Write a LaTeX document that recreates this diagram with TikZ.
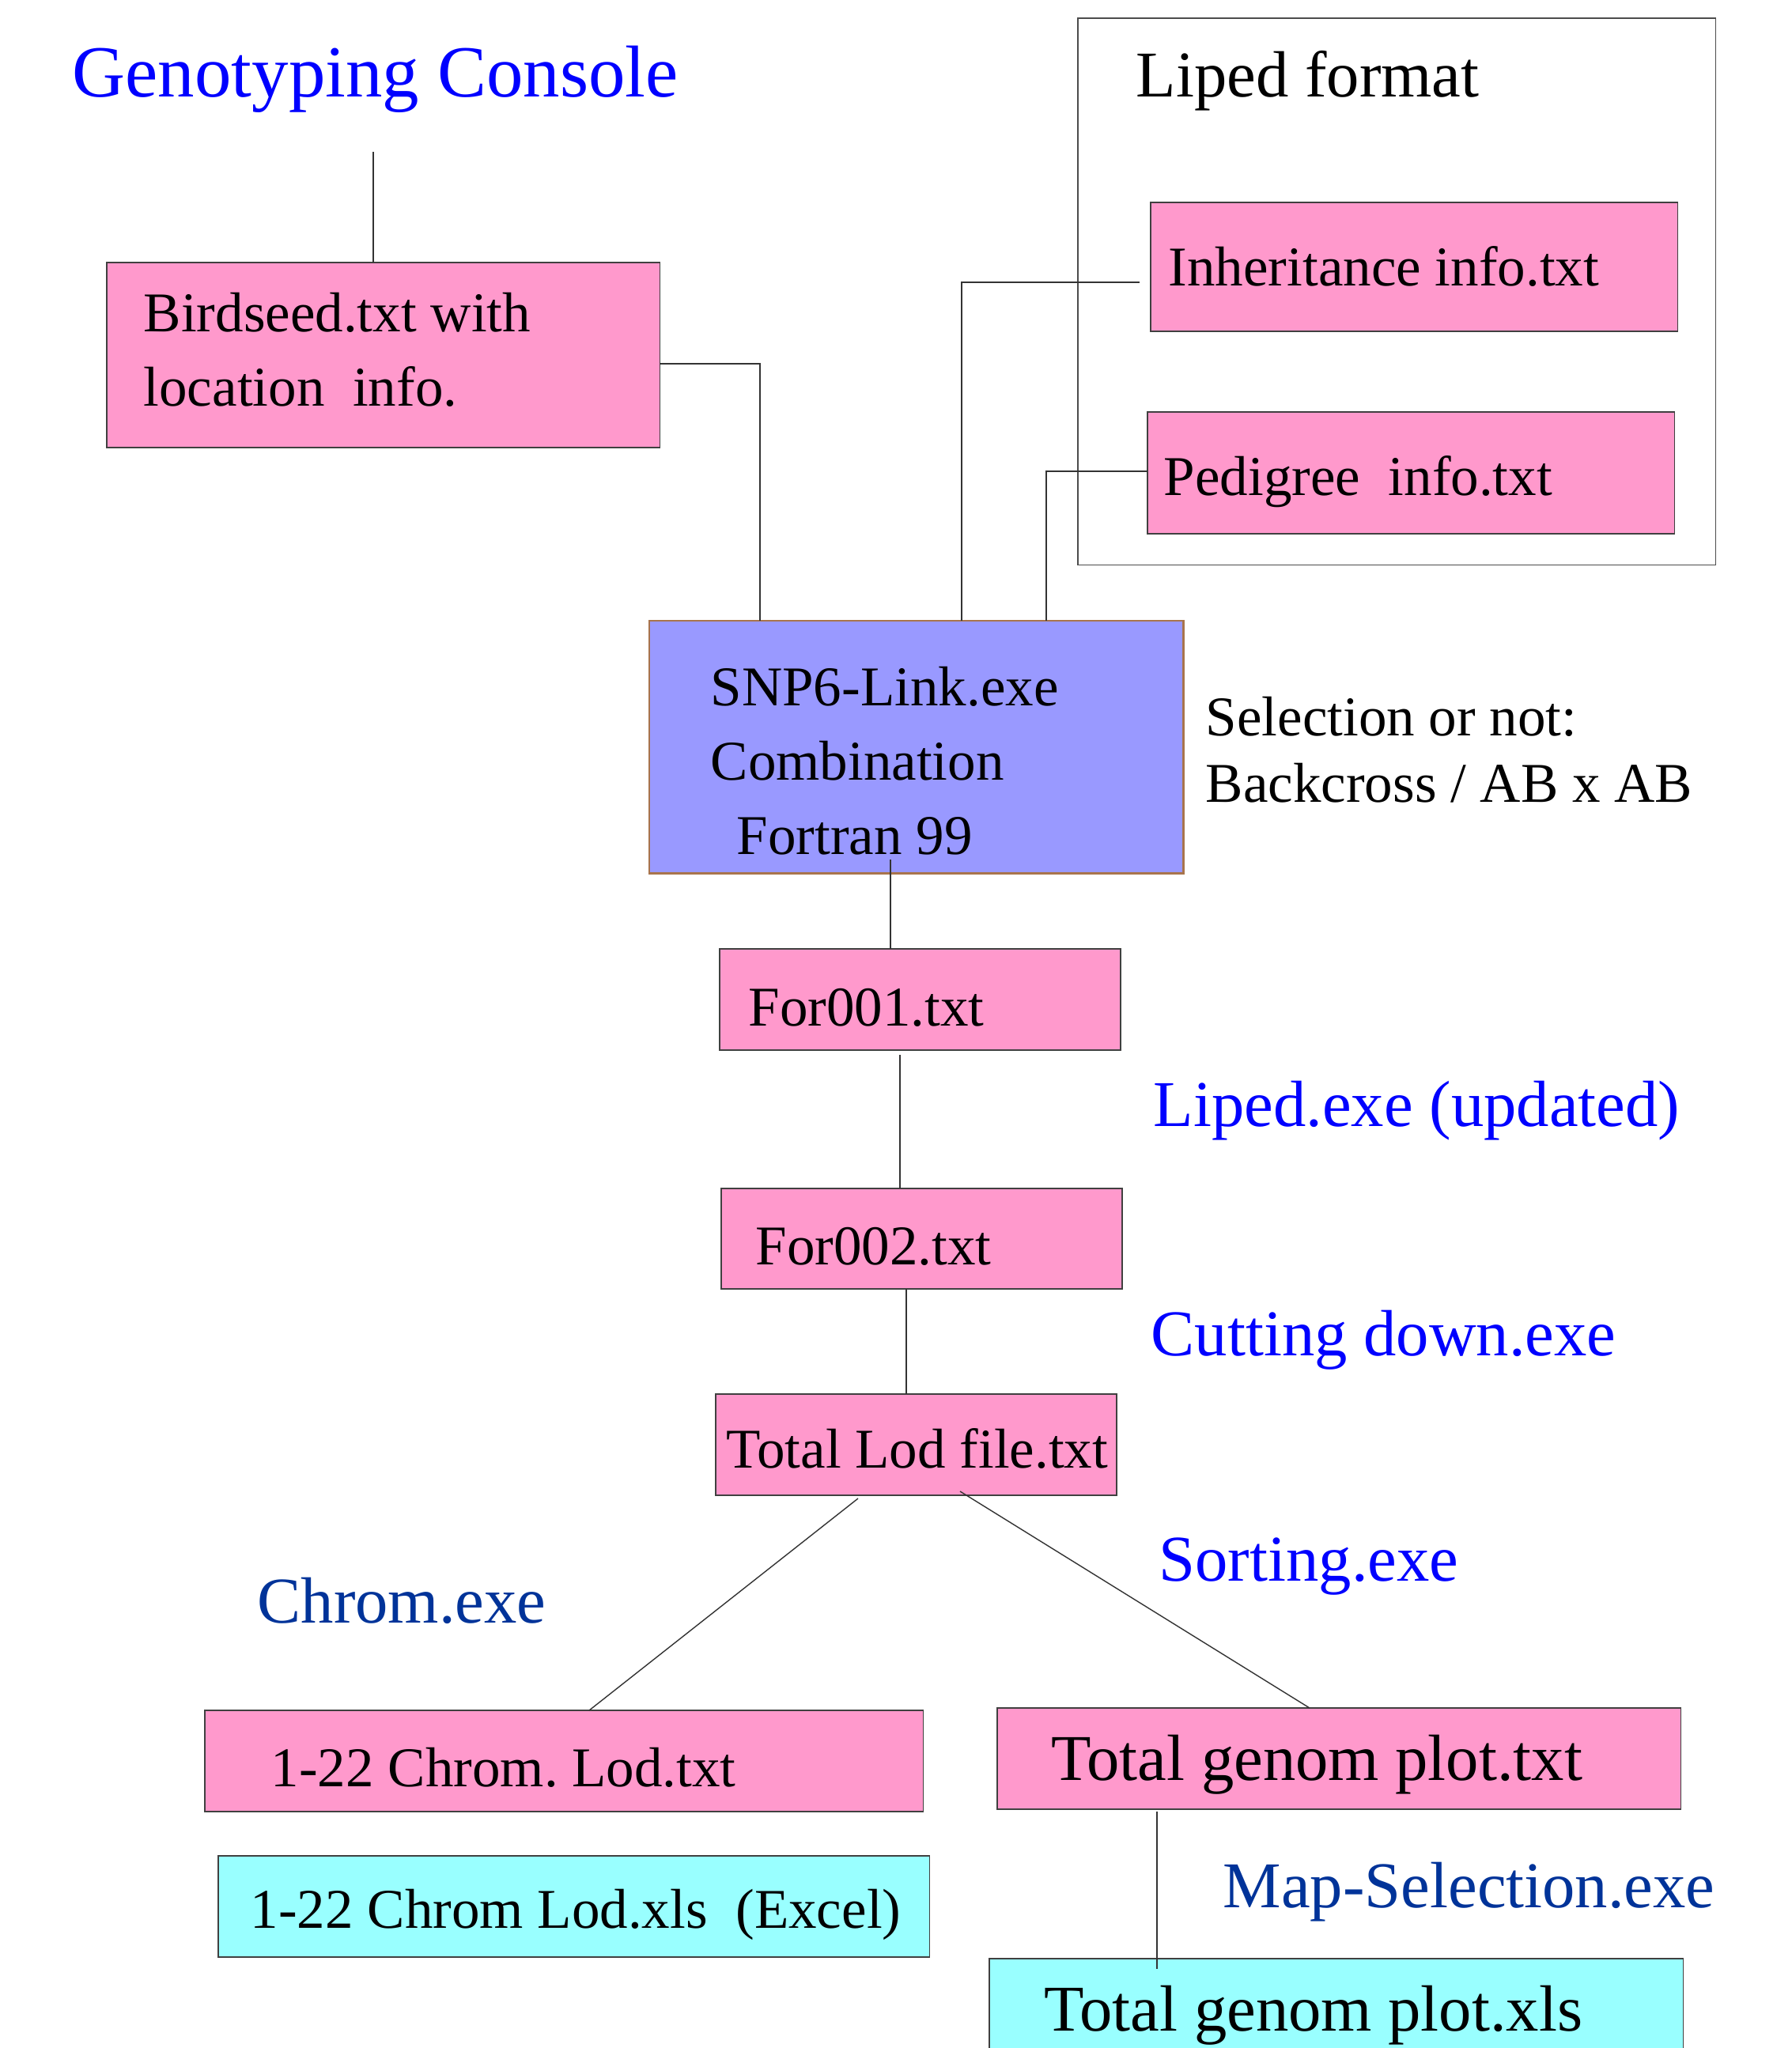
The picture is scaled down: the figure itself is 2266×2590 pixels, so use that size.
\documentclass[tikz,border=0pt]{standalone}
\usepackage{fontspec}
\setmainfont{Liberation Serif}
\usepackage{xcolor}
\usetikzlibrary{positioning,calc}
\definecolor{filepink}{HTML}{FF99CC}
\definecolor{progblue}{HTML}{9999FF}
\definecolor{xlscyan}{HTML}{99FFFF}
\definecolor{progborder}{HTML}{A8744C}
\definecolor{exeblue}{HTML}{0000FF}
\definecolor{exenavy}{HTML}{003399}
\frenchspacing

\begin{document}
\begin{tikzpicture}[
  x=0.01cm, y=-0.01cm,
  box/.style={draw=black!75, line width=0.5pt, inner sep=0pt, outer sep=0pt, anchor=north west},
  filebox/.style={box, fill=filepink},
  progbox/.style={box, fill=progblue, draw=progborder, line width=0.8pt},
  xlsbox/.style={box, fill=xlscyan},
  txt/.style={anchor=base west, inner sep=0pt, font=\fontsize{20.2}{24}\selectfont},
  bigtxt/.style={txt, font=\fontsize{23.5}{28}\selectfont},
  exe/.style={bigtxt, text=exeblue},
  exedark/.style={bigtxt, text=exenavy},
  link/.style={draw=black!80, line width=0.4pt},
]
\clip (0,0) rectangle (2266,2590);

% Title and input file
\node[txt, font=\fontsize{26.4}{30}\selectfont, text=exeblue] (console) at (91,122) {Genotyping Console};
\node[filebox, minimum width=6.99cm, minimum height=2.34cm] (birdseed) at (135,332) {};
\node[txt] (birdseedA) at (181,419) {Birdseed.txt with};
\node[txt] (birdseedB) at (181,513) {location\ \ info.};

% Liped format group
\node[box, draw=black!70, line width=0.4pt, minimum width=8.06cm, minimum height=6.91cm] (liped) at (1363,23) {};
\node[bigtxt] (lipedtitle) at (1436,122) {Liped format};
\node[filebox, minimum width=6.66cm, minimum height=1.63cm] (inherit) at (1455,256) {};
\node[txt] (inherittxt) at (1477,361) {Inheritance info.txt};
\node[filebox, minimum width=6.66cm, minimum height=1.54cm] (pedigree) at (1451,521) {};
\node[txt] (pedigreetxt) at (1471,626) {Pedigree\ \ info.txt};

% Main program
\node[progbox, minimum width=6.75cm, minimum height=3.19cm] (snp) at (821,785) {};
\node[txt] (snpA) at (898,892) {SNP6-Link.exe};
\node[txt] (snpB) at (898,986) {Combination};
\node[txt] (snpC) at (931,1080) {Fortran 99};
\node[txt] (selA) at (1524,930) {Selection or not:};
\node[txt] (selB) at (1524,1014) {Backcross / AB x AB};

% Intermediate files
\node[filebox, minimum width=5.07cm, minimum height=1.28cm] (for1) at (910,1200) {};
\node[txt] (for1txt) at (946,1297) {For001.txt};
\node[filebox, minimum width=5.07cm, minimum height=1.27cm] (for2) at (912,1503) {};
\node[txt] (for2txt) at (955,1599) {For002.txt};
\node[filebox, minimum width=5.07cm, minimum height=1.28cm] (totlod) at (905,1763) {};
\node[txt] (totlodtxt) at (918,1856) {Total Lod file.txt};

% Output files
\node[filebox, minimum width=9.08cm, minimum height=1.28cm] (chromlod) at (259,2163) {};
\node[txt] (chromlodtxt) at (342,2259) {1-22 Chrom. Lod.txt};
\node[xlsbox, minimum width=8.99cm, minimum height=1.28cm] (chromxls) at (276,2347) {};
\node[txt] (chromxlstxt) at (316,2438) {1-22 Chrom Lod.xls\ \ (Excel)};
\node[filebox, minimum width=8.64cm, minimum height=1.28cm] (genomtxt) at (1261,2160) {};
\node[bigtxt] (genomtxtA) at (1329,2251) {Total genom plot.txt};
\node[xlsbox, minimum width=8.77cm, minimum height=2.2cm] (genomxls) at (1251,2477) {};
\node[bigtxt] (genomxlsA) at (1320,2568) {Total genom plot.xls};

% Program labels
\node[exe] (lipedexe) at (1458,1424) {Liped.exe (updated)};
\node[exe] (cutexe) at (1455,1714) {Cutting down.exe};
\node[exe] (sortexe) at (1465,1999) {Sorting.exe};
\node[exedark] (chromexe) at (325,2052) {Chrom.exe};
\node[exedark] (mapexe) at (1546,2412) {Map-Selection.exe};

% Connectors
\coordinate (consolefoot) at (472,192);
\coordinate (bsbend) at (961,460);
\coordinate (inhbend) at (1216,357);
\coordinate (pedbend) at (1323,596);
\draw[link] (consolefoot) -- (consolefoot |- birdseed.north);
\draw[link] (birdseed.east |- bsbend) -- (bsbend) -- (bsbend |- snp.north);
\draw[link] ([xshift=-4]inherit.west |- inhbend) -- (inhbend) -- (inhbend |- snp.north);
\draw[link] (pedigree.west |- pedbend) -- (pedbend) -- (pedbend |- snp.north);
\draw[link] (1126,1087) -- (1126,1087 |- for1.north);
\draw[link] (1138,1334) -- (1138,1334 |- for2.north);
\draw[link] (1146,1630) -- (1146,1630 |- totlod.north);
\draw[link] (1085,1895) -- (745,2163);
\draw[link] (1214,1886) -- (1656,2160);
\draw[link] (1463,2291) -- (1463,2490);

\end{tikzpicture}
\end{document}
